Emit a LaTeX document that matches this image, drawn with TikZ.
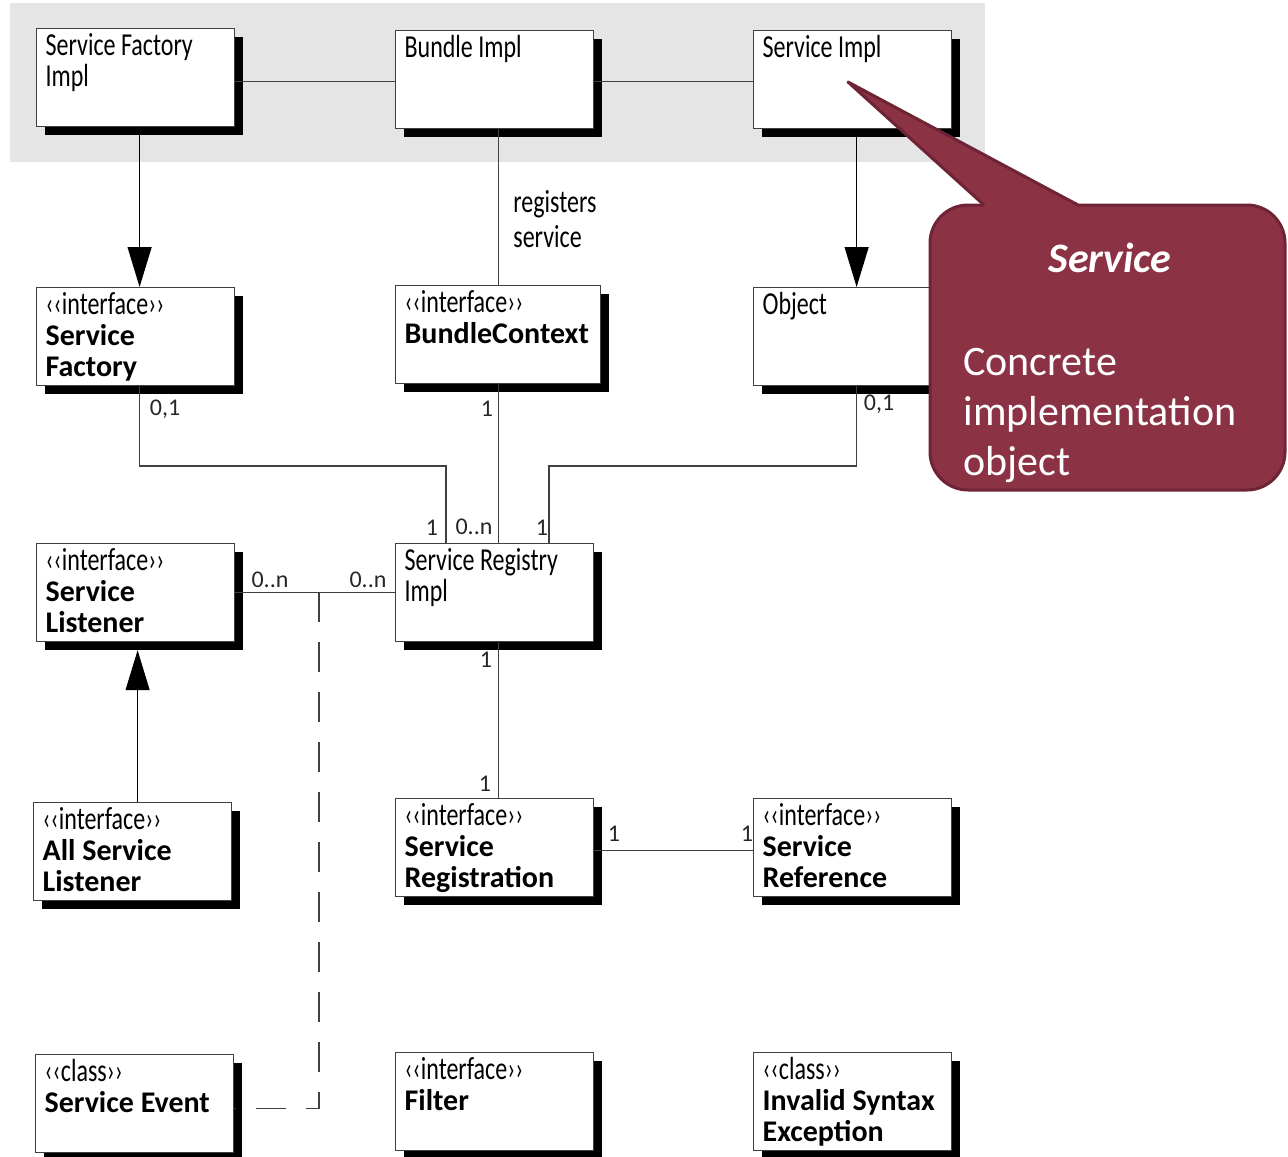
\documentclass[tikz,border=0pt]{standalone}
\usepackage{fontspec}
\setmainfont{Carlito}
\newfontfamily\condfont[FakeStretch=0.75]{Carlito}
\usetikzlibrary{arrows.meta,shadows}

\definecolor{calloutred}{RGB}{139,50,69}
\definecolor{calloutedge}{RGB}{110,36,52}

\newcommand{\umlname}[1]{{\normalfont\bfseries\fontsize{15}{15.5}\selectfont #1}}

\tikzset{
  osgi-band/.style={fill=black!10},
  osgi-box/.style={draw=black!75, line width=0.6pt, fill=white, anchor=north west,
    drop shadow={shadow xshift=4pt, shadow yshift=-4pt, fill=black, opacity=1},
    inner xsep=4.5pt, inner ysep=2.5pt,
    font=\condfont\fontsize{16}{15.5}\selectfont,
    execute at begin node={\begin{minipage}[t][44pt][t]{#1}\raggedright},
    execute at end node={\end{minipage}}},
  osgi-box/.default=90pt,
  osgi-link/.style={draw=black!75, line width=0.6pt},
  osgi-gen/.style={-{Triangle[length=20pt,width=12pt]}, draw=black, line width=0.6pt},
  osgi-dep/.style={draw=black!75, line width=0.6pt, dash pattern=on 15pt off 10pt},
  osgi-mult/.style={font=\fontsize{12}{14}\selectfont, text=black!85, inner sep=0pt},
  osgi-note/.style={font=\condfont\fontsize{16}{17.5}\selectfont, align=left, inner sep=0pt, anchor=north west},
  osgi-callout/.style={fill=calloutred, draw=calloutedge, line width=1.5pt, rounded corners=19pt},
  osgi-callout-text/.style={text=white, inner sep=0pt},
}

\begin{document}
\begin{tikzpicture}[x=0.5pt, y=-0.5pt]
    \useasboundingbox (0,0) rectangle (1288,1156);

    % Background: implementation band
    \fill[osgi-band] (10,3) rectangle (985,162);

    % Nodes: Top row (implementations)
    \node[osgi-box] (sfi)   at (36,28)  {Service Factory\\Impl};
    \node[osgi-box] (bimpl) at (395,30) {Bundle Impl};
    \node[osgi-box] (simpl) at (753,30) {Service Impl};

    % Nodes: Second row
    \node[osgi-box] (sf)    at (36,287)  {‹‹interface››\\\umlname{Service}\\\umlname{Factory}};
    \node[osgi-box=93.5pt] (bctx) at (395,285) {‹‹interface››\\\umlname{BundleContext}};
    \node[osgi-box] (obj)   at (753,287) {Object};

    % Nodes: Third row
    \node[osgi-box] (sl)    at (36,543)  {‹‹interface››\\\umlname{Service}\\\umlname{Listener}};
    \node[osgi-box] (reg)   at (395,543) {Service Registry\\Impl};

    % Nodes: Fourth row
    \node[osgi-box] (asl)   at (33,802)  {‹‹interface››\\\umlname{All Service}\\\umlname{Listener}};
    \node[osgi-box] (sreg)  at (395,798) {‹‹interface››\\\umlname{Service}\\\umlname{Registration}};
    \node[osgi-box] (sref)  at (753,798) {‹‹interface››\\\umlname{Service}\\\umlname{Reference}};

    % Nodes: Bottom row
    \node[osgi-box] (sev)   at (35,1054)  {‹‹class››\\\umlname{Service Event}};
    \node[osgi-box] (flt)   at (395,1052) {‹‹interface››\\\umlname{Filter}};
    \node[osgi-box] (ise)   at (753,1052) {‹‹class››\\\umlname{Invalid Syntax}\\\umlname{Exception}};

    % Edges: Top row associations
    \draw[osgi-link] ([yshift=-2pt]sfi.east) -- ([yshift=-2pt]sfi.east -| bimpl.west);
    \draw[osgi-link] ([yshift=-1pt]bimpl.east) -- ([yshift=-1pt]bimpl.east -| simpl.west);

    % Edges: Realisation arrows
    \draw[osgi-gen] ([xshift=2pt]sfi.south) -- ([xshift=2pt]sf.north);
    \draw[osgi-gen] ([xshift=2pt]simpl.south) -- ([xshift=2pt]obj.north);
    \draw[osgi-gen, shorten >=4pt] ([xshift=2.5pt]asl.north) -- ([xshift=2.5pt]asl.north |- sl.south);

    % Edges: Bundle registers service
    \draw[osgi-link] ([xshift=2pt]bimpl.south) -- ([xshift=2pt]bimpl.south |- bctx.north);
    \node[osgi-note] (regnote) at (513,190) {registers\\service};

    % Edges: Into the registry
    \coordinate (bendL) at (446,466);
    \coordinate (bendR) at (549,466);
    \draw[osgi-link] ([xshift=2pt]sf.south) |- (bendL) -- (bendL |- reg.north);
    \draw[osgi-link] (bctx.south) -- (bctx.south |- reg.north);
    \draw[osgi-link] ([xshift=2pt]obj.south) |- (bendR) -- (bendR |- reg.north);
    \draw[osgi-link] (sl.east) -- (reg.west);
    \draw[osgi-link] ([xshift=2pt]reg.south) -- ([xshift=2pt]reg.south |- sreg.north);
    \draw[osgi-link] ([yshift=-1.5pt]sreg.east) -- ([yshift=-1.5pt]sreg.east -| sref.west);

    % Edges: Event dependency (dashed)
    \coordinate (tap) at (319,592);
    \draw[osgi-dep] (tap) |- ([yshift=-2.5pt]sev.east);

    % Labels: Multiplicities
    \node[osgi-mult] (m-sf)    at (165,409) {0,1};
    \node[osgi-mult] (m-bctx)  at (487,409) {1};
    \node[osgi-mult] (m-obj)   at (879,404) {0,1};
    \node[osgi-mult] (m-rega)  at (432,528) {1};
    \node[osgi-mult] (m-regb)  at (474,527) {0..n};
    \node[osgi-mult] (m-regc)  at (542,528) {1};
    \node[osgi-mult] (m-sl)    at (270,580) {0..n};
    \node[osgi-mult] (m-regl)  at (368,580) {0..n};
    \node[osgi-mult] (m-regs)  at (486,660) {1};
    \node[osgi-mult] (m-sreg)  at (485,784) {1};
    \node[osgi-mult] (m-sregr) at (614,834) {1};
    \node[osgi-mult] (m-sref)  at (747,834) {1};

    % Callout: Service
    \draw[osgi-callout] (930,205) rectangle (1285,490);
    \fill[calloutred] (984,205) -- (848,82) -- (1078,205) -- (1078,214) -- (984,214) -- cycle;
    \draw[draw=calloutedge, line width=1.5pt, line join=round] (984,205) -- (848,82) -- (1078,205);
    \node[osgi-callout-text, anchor=base, font=\fontsize{21}{25}\selectfont\bfseries\itshape] (ctitle) at (1110,272) {Service};
    \node[osgi-callout-text, anchor=north west, align=left, font=\fontsize{21}{25}\selectfont] (cbody) at (963,348) {Concrete\\implementation\\object};

\end{tikzpicture}
\end{document}
